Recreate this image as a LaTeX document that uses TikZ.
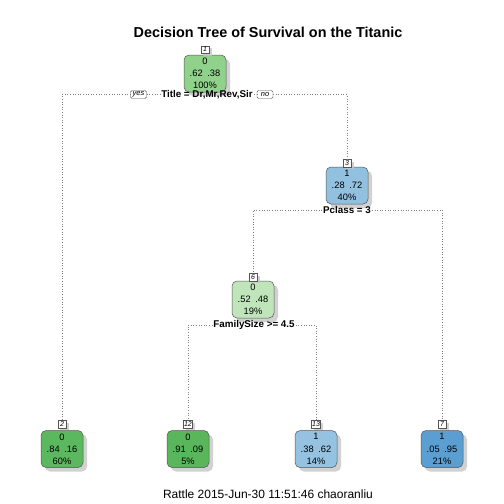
\documentclass[tikz,border=0pt]{standalone}
\usepackage{fontspec}
\setmainfont{Liberation Sans}
\usetikzlibrary{shadows}
\definecolor{gA}{HTML}{90D18B}
\definecolor{gB}{HTML}{C0E5BB}
\definecolor{gC}{HTML}{5CB85F}
\definecolor{gD}{HTML}{5AB65A}
\definecolor{bA}{HTML}{92C0DF}
\definecolor{bB}{HTML}{94C2E0}
\definecolor{bC}{HTML}{5B9FD2}
\definecolor{edgegray}{HTML}{555555}
\tikzset{
  treebox/.style={draw=edgegray, line width=0.5pt, rounded corners=5pt,
    minimum width=42pt, minimum height=37pt, inner sep=0pt, align=center,
    font=\fontsize{9.3}{12.2}\selectfont,
    drop shadow={shadow xshift=4pt, shadow yshift=-4pt, fill=gray!45, opacity=0.8}},
  numbox/.style={draw=edgegray, line width=0.4pt, fill=white, inner sep=0.6pt,
    minimum width=8.5pt, minimum height=7.5pt, font=\fontsize{7}{7}\selectfont\itshape,
    drop shadow={shadow xshift=2.5pt, shadow yshift=-2.5pt, fill=gray!45, opacity=0.8}},
  splitlab/.style={font=\fontsize{9.8}{11}\selectfont\bfseries, inner sep=1pt},
  yn/.style={draw=edgegray, line width=0.4pt, rounded corners=1.5pt, fill=white,
    inner sep=1pt, minimum width=16pt, minimum height=8pt,
    font=\fontsize{7.5}{8}\selectfont\itshape},
  conn/.style={draw=gray, line width=0.6pt, dotted}
}
\begin{document}
\begin{tikzpicture}[x=1pt,y=-1pt]
\useasboundingbox[fill=white] (0,0) rectangle (504,504);
\node[font=\fontsize{14.4}{16}\selectfont\bfseries] (title) at (268,32) {Decision Tree of Survival on the Titanic};
\node[font=\fontsize{12}{14}\selectfont] (foot) at (268,494) {Rattle 2015-Jun-30 11:51:46 chaoranliu};

% node 1
\node[treebox, fill=gA] (n1) at (205,73.5) {0\\.62\enspace.38\\100\%};
\node[numbox] (l1) at (205,49.5) {1};
\node[splitlab] (s1) at (207,94.5) {Title = Dr,Mr,Rev,Sir};
\node[yn] (yes) at (138.5,94.5) {yes};
\node[yn] (no) at (265,94.5) {no};

% node 3
\node[treebox, fill=bA] (n3) at (347,185.5) {1\\.28\enspace.72\\40\%};
\node[numbox] (l3) at (347,163) {3};
\node[splitlab] (s3) at (347,210) {Pclass = 3};

% node 6
\node[treebox, fill=gB] (n6) at (253,299.5) {0\\.52\enspace.48\\19\%};
\node[numbox] (l6) at (253,277) {6};
\node[splitlab] (s6) at (254,325) {FamilySize >= 4.5};

% leaves
\node[treebox, fill=gC] (n2) at (62,449) {0\\.84\enspace.16\\60\%};
\node[numbox] (l2) at (62,424) {2};
\node[treebox, fill=gD] (n12) at (188,449) {0\\.91\enspace.09\\5\%};
\node[numbox] (l12) at (188,424) {12};
\node[treebox, fill=bB] (n13) at (316,449) {1\\.38\enspace.62\\14\%};
\node[numbox] (l13) at (316,424) {13};
\node[treebox, fill=bC] (n7) at (442,449) {1\\.05\enspace.95\\21\%};
\node[numbox] (l7) at (442,424) {7};

% connectors
\draw[conn] (yes.west) -| (l2.north);
\draw[conn] (yes.east) -- (s1.west);
\draw[conn] (s1.east) -- (no.west);
\draw[conn] (no.east) -| (l3.north);
\draw[conn] (s3.west) -| (l6.north);
\draw[conn] (s3.east) -| (l7.north);
\draw[conn] (s6.west) -| (l12.north);
\draw[conn] (s6.east) -| (l13.north);
\end{tikzpicture}
\end{document}
